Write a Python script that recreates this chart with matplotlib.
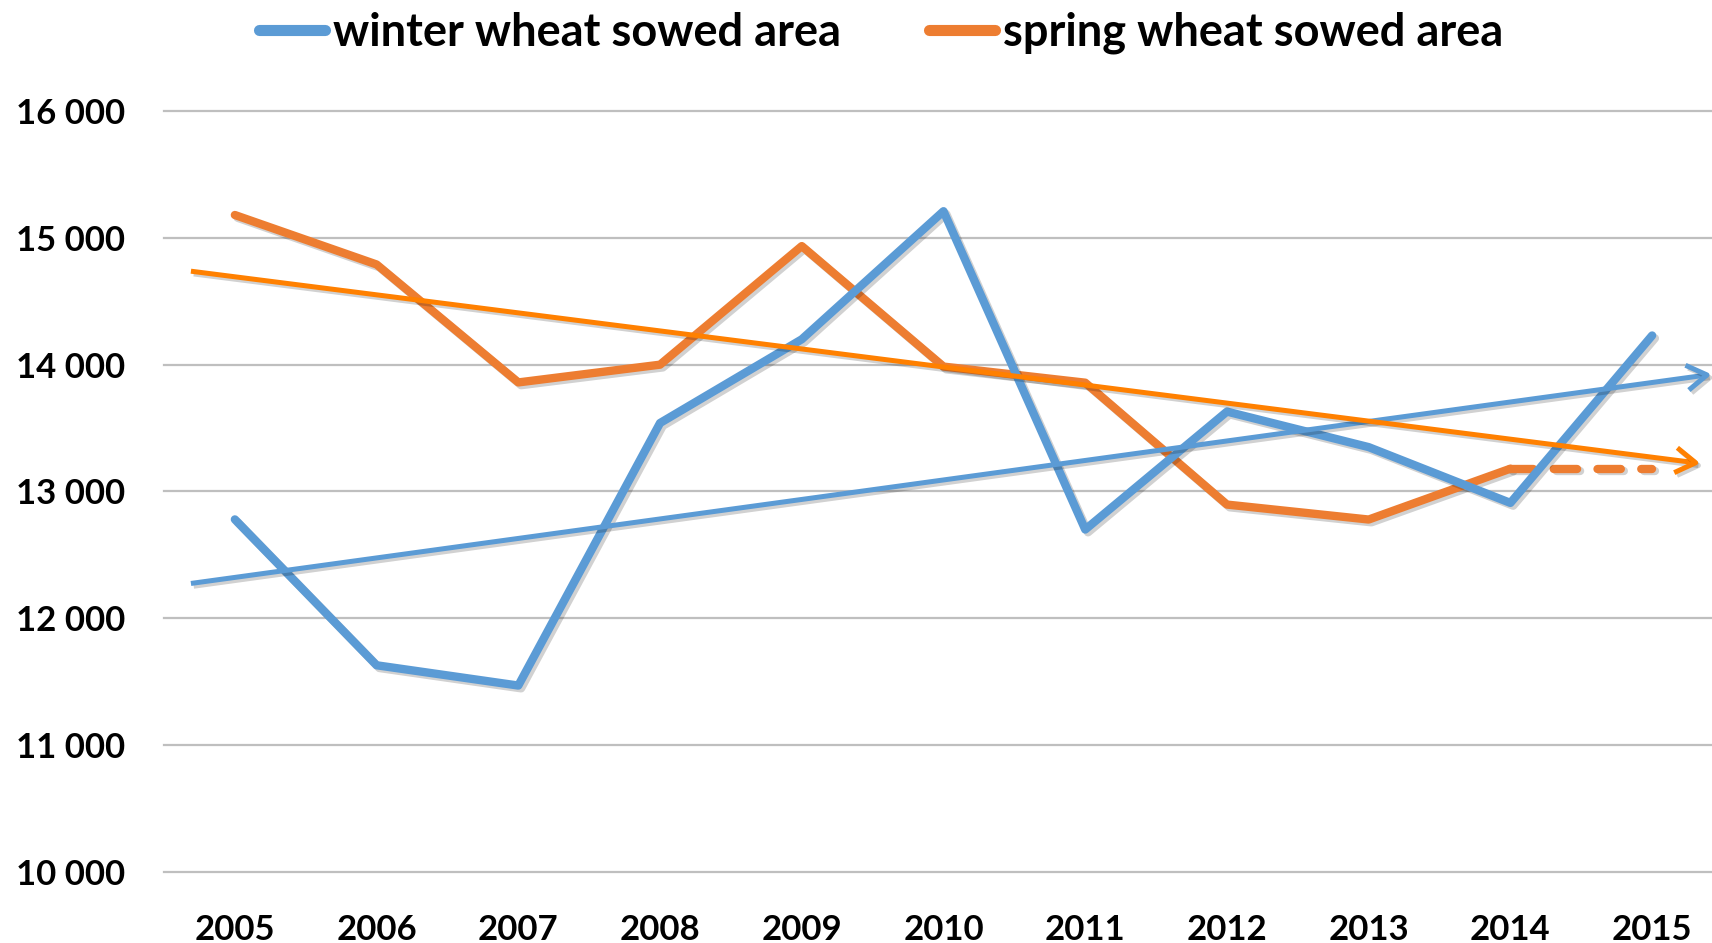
import matplotlib
matplotlib.use("Agg")
import matplotlib.pyplot as plt
import matplotlib.patheffects as pe
from matplotlib.lines import Line2D

# ---------------- data ----------------
years = [2005, 2006, 2007, 2008, 2009, 2010, 2011, 2012, 2013, 2014, 2015]
year_labels = [str(y) for y in years]
winter = [12780, 11630, 11470, 13540, 14200, 15210, 12700, 13630, 13350, 12910, 14230]
spring = [15180, 14790, 13860, 14000, 14935, 13985, 13858, 12897, 12779, 13180]
spring_2015_estimate = 13180

winter_trend_x = [2004.69, 2015.42]
winter_trend_y = [12275, 13924]
spring_trend_x = [2004.69, 2015.34]
spring_trend_y = [14737, 13222]

yticks = [10000, 11000, 12000, 13000, 14000, 15000, 16000]
ytick_labels = ["10 000", "11 000", "12 000", "13 000", "14 000", "15 000", "16 000"]
legend_labels = ["winter wheat sowed area", "spring wheat sowed area"]

# ---------------- style ----------------
BLUE = "#5B9BD5"
ORANGE = "#ED7D31"
ORANGE_TREND = "#FF8000"
GRID = "#BFBFBF"
FONT = "Lato"

W, H = 1712, 943
fig = plt.figure(figsize=(W / 100, H / 100), dpi=100)
ax = fig.add_axes([164 / W, 71 / H, (1723 - 164) / W, (872 - 111) / H])

shadow = [pe.SimpleLineShadow(offset=(2, -2), shadow_color="black", alpha=0.18), pe.Normal()]

data_lw = 6.0
trend_lw = 3.6

ax.plot(years[:len(spring)], spring, color=ORANGE, lw=data_lw, solid_capstyle="round",
        solid_joinstyle="round", zorder=3, path_effects=shadow)
ax.plot(years[len(spring) - 1:], [spring[-1], spring_2015_estimate], color=ORANGE, lw=data_lw,
        linestyle=(0, (2.8, 2.45)), dash_capstyle="round", zorder=3, path_effects=shadow)
ax.plot(years, winter, color=BLUE, lw=data_lw, solid_capstyle="round",
        solid_joinstyle="round", zorder=4, path_effects=shadow)

for tx, ty, col, z in [(winter_trend_x, winter_trend_y, BLUE, 5),
                       (spring_trend_x, spring_trend_y, ORANGE_TREND, 6)]:
    ax.annotate("", xy=(tx[1], ty[1]), xytext=(tx[0], ty[0]), xycoords="data",
                textcoords="data", annotation_clip=False, zorder=z,
                arrowprops=dict(arrowstyle="->,head_length=0.48,head_width=0.3",
                                color=col, lw=trend_lw, shrinkA=0, shrinkB=0,
                                mutation_scale=30, capstyle="butt",
                                path_effects=shadow))

ax.set_xlim(2004.5, 2015.5)
ax.set_ylim(10000, 16000)
ax.set_xticks(years)
ax.set_xticklabels(year_labels)
ax.set_yticks(yticks)
ax.set_yticklabels(ytick_labels)
for s in ax.spines.values():
    s.set_visible(False)
ax.tick_params(axis="both", length=0)
ax.tick_params(axis="y", pad=28)
ax.tick_params(axis="x", pad=30)
for lab in ax.get_xticklabels() + ax.get_yticklabels():
    lab.set_fontfamily(FONT)
    lab.set_fontweight("bold")
    lab.set_fontsize(25)
    lab.set_color("black")

ax.yaxis.grid(True, color=GRID, lw=1.6, zorder=0)
ax.set_axisbelow(True)
for gl in ax.get_ygridlines():
    gl.set_clip_on(False)

handles = [Line2D([0], [0], color=BLUE, lw=8, solid_capstyle="round"),
           Line2D([0], [0], color=ORANGE, lw=8, solid_capstyle="round")]
fig.legend(handles, legend_labels, loc="center", bbox_to_anchor=(881 / W, 1 - 33 / H),
           ncol=2, frameon=False, prop=dict(family=FONT, weight="bold", size=32.5),
           handlelength=1.48, handletextpad=0.17, columnspacing=1.94)

fig.savefig("out.png", dpi=100, facecolor="white")
